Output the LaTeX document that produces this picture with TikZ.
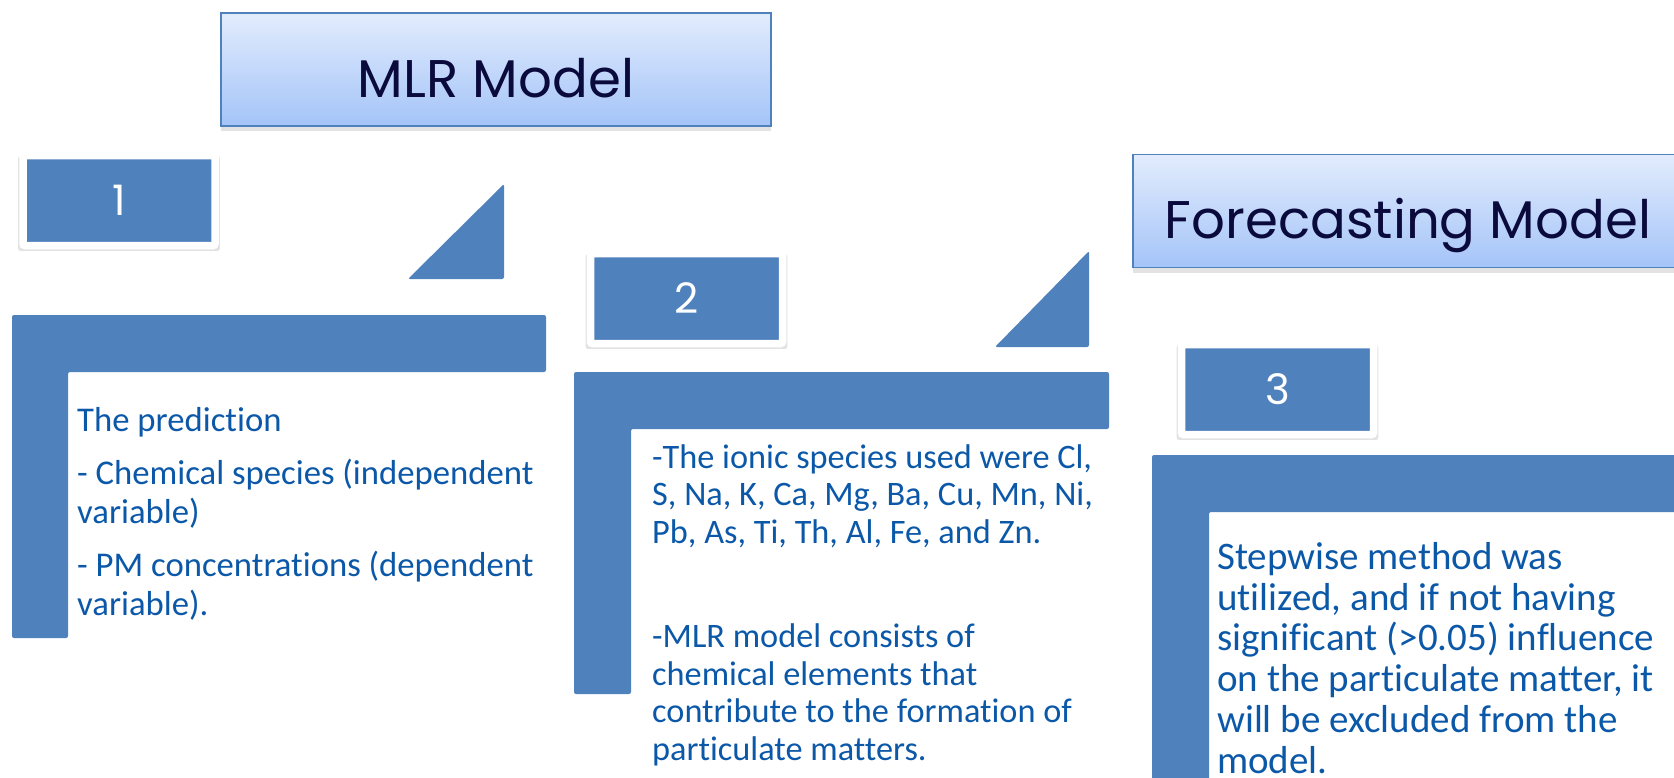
\documentclass[tikz,border=0pt]{standalone}
\usepackage{fontspec}
\setmainfont{Carlito}[Ligatures={NoCommon}]
\newfontfamily\titlefont{Poppins}
\usetikzlibrary{shadows}

\definecolor{accentblue}{RGB}{79,129,189}
\definecolor{textblue}{RGB}{12,88,168}
\definecolor{navy}{RGB}{10,10,60}
\definecolor{gradtop}{RGB}{226,236,253}
\definecolor{gradbottom}{RGB}{164,196,248}

\begin{document}
\begin{tikzpicture}[x=1pt,y=-1pt,
  titlebox/.style={draw=accentblue, line width=1.5pt, top color=gradtop, bottom color=gradbottom,
    minimum width=550pt, minimum height=113pt, inner sep=0pt, text=navy,
    font=\titlefont\fontsize{53}{53}\selectfont, text height=55pt, text depth=0pt,
    drop shadow={shadow xshift=0pt, shadow yshift=-5pt, opacity=.22}},
  numbox/.style={fill=accentblue, draw=white, line width=7.5pt, rounded corners=2pt,
    minimum width=192pt, minimum height=90pt, inner sep=0pt, text=white,
    font=\titlefont\fontsize{42}{42}\selectfont,
    drop shadow={shadow xshift=0pt, shadow yshift=-3pt, shadow scale=1.05, opacity=.22}},
  bluepart/.style={fill=accentblue, rounded corners=2pt},
  textnode/.style={text=textblue, align=left, anchor=north west, inner sep=0pt}]

  \useasboundingbox (0,0) rectangle (1674,777);
  \clip (0,0) rectangle (1674,777);

  % headers
  \node[titlebox] (MLRTitle) at (496,69.5) {MLR Model};
  \node[titlebox] (ForecastTitle) at (1408,211) {Forecasting Model};

  % corner triangles
  \fill[bluepart] (408,279) -- (504,279) -- (504,184) -- cycle;
  \fill[bluepart] (995,347) -- (1089,347) -- (1089,251) -- cycle;

  % brackets
  \fill[bluepart] (12,315) -- (546,315) -- (546,372) -- (68,372) -- (68,638) -- (12,638) -- cycle;
  \fill[bluepart] (574,372) -- (1109,372) -- (1109,429) -- (631,429) -- (631,694) -- (574,694) -- cycle;
  \fill[bluepart] (1152,455) -- (1700,455) -- (1700,512) -- (1209,512) -- (1209,800) -- (1152,800) -- cycle;

  % step numbers
  \node[numbox] (StepOne) at (119,200.5) {1};
  \node[numbox] (StepTwo) at (686.5,298.5) {2};
  \node[numbox] (StepThree) at (1277.5,389.5) {3};

  % texts
  \node[textnode, font=\fontsize{34.7}{39}\selectfont] (TextOne) at (77,407)
    {The prediction\\[14pt]- Chemical species (independent\\variable)\\[14pt]- PM concentrations (dependent\\variable).};
  \node[textnode, font=\fontsize{34.3}{37.5}\selectfont] (TextTwo) at (652,444)
    {-The ionic species used were Cl,\\S, Na, K, Ca, Mg, Ba, Cu, Mn, Ni,\\Pb, As, Ti, Th, Al, Fe, and Zn.\\[67pt]-MLR model consists of\\chemical elements that\\contribute to the formation of\\particulate matters.};
  \node[textnode, font=\fontsize{39}{40.8}\selectfont] (TextThree) at (1217,542)
    {Stepwise method was\\utilized, and if not having\\significant (>0.05) influence\\on the particulate matter, it\\will be excluded from the\\model.};

\end{tikzpicture}
\end{document}
